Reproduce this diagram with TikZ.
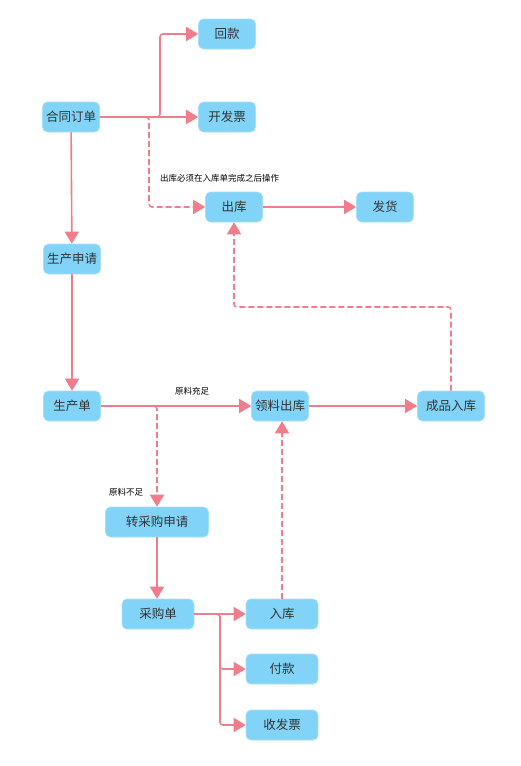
\documentclass[tikz,border=0pt]{standalone}
\usepackage{fontspec}
\setmainfont{Noto Sans CJK SC}
\usetikzlibrary{positioning, arrows.meta, calc}
\definecolor{boxFill}{HTML}{81D3F8}
\definecolor{boxBorder}{HTML}{A6DFF9}
\definecolor{flowColor}{HTML}{F07C8C}
\definecolor{textMain}{HTML}{333333}
\tikzset{
  stepbox/.style={draw=boxBorder, fill=boxFill, rounded corners=5pt,
    minimum width=57pt, minimum height=30pt, inner sep=2pt,
    font=\fontsize{12.5}{14}\selectfont, text=textMain, line width=0.6pt, align=center},
  flow/.style={-{Triangle[length=12pt, width=14pt]}, line width=1.6pt,
    color=flowColor, rounded corners=3pt},
  dashflow/.style={flow, dash pattern=on 6pt off 3pt},
  note/.style={font=\fontsize{8.5}{10}\selectfont, text=black, inner sep=1pt},
}

\begin{document}
\begin{tikzpicture}[x=1pt, y=-1pt]
  \useasboundingbox (0,0) rectangle (520,766);

  % === contract order and its branches ===
  \node[stepbox] (hetong) at (71,117) {合同订单};
  \node[stepbox] (huikuan) at (227,34) {回款};
  \node[stepbox] (kaifapiao) at (227,117) {开发票};
  \node[stepbox] (chuku) at (234,207) {出库};
  \node[stepbox] (fahuo) at (385,207) {发货};

  % === production ===
  \node[stepbox] (shenqing) at (72,259) {生产申请};
  \node[stepbox] (shengchan) at (72,406) {生产单};
  \node[stepbox] (lingliao) at (280,406) {领料出库};
  \node[stepbox, minimum width=67pt] (chengpin) at (451,406) {成品入库};

  % === purchasing ===
  \node[stepbox, minimum width=103pt] (zhuancaigou) at (157,522) {转采购申请};
  \node[stepbox, minimum width=72pt] (caigou) at (158,614) {采购单};
  \node[stepbox, minimum width=72pt] (ruku) at (282,614) {入库};
  \node[stepbox, minimum width=72pt] (fukuan) at (282,669) {付款};
  \node[stepbox, minimum width=72pt] (shoufapiao) at (282,725) {收发票};

  % Arrows: contract order
  \draw[flow] (hetong.east) -- (hetong.east -| 160,0) |- (huikuan.west);
  \draw[flow] (hetong) -- (kaifapiao);
  \draw[dashflow] (hetong.east) -- (hetong.east -| 149,0) |- (chuku.west);
  \node[note, anchor=west] (tipchuku) at (159,178) {出库必须在入库单完成之后操作};
  \draw[flow] (chuku) -- (fahuo);
  \draw[flow] (hetong) -- (shenqing);
  \draw[flow] (shenqing) -- (shengchan);

  % Arrows: production order
  \draw[flow] (shengchan) -- (lingliao);
  \node[note] (tipchongzu) at (192,391) {原料充足};
  \draw[dashflow] (shengchan.east) -| (zhuancaigou.north);
  \node[note] (tipbuzu) at (126,492) {原料不足};
  \draw[flow] (lingliao) -- (chengpin);
  \draw[dashflow] (chengpin.north) -- (chengpin.north |- 0,307) -| (chuku.south);

  % Arrows: purchasing
  \draw[flow] (zhuancaigou) -- (zhuancaigou |- caigou.north);
  \draw[flow] (caigou) -- (ruku);
  \draw[flow] (caigou.east) -- (caigou.east -| 220,0) |- (fukuan.west);
  \draw[flow] (caigou.east) -- (caigou.east -| 220,0) |- (shoufapiao.west);
  \draw[dashflow] (ruku) -- (ruku |- lingliao.south);
\end{tikzpicture}
\end{document}
